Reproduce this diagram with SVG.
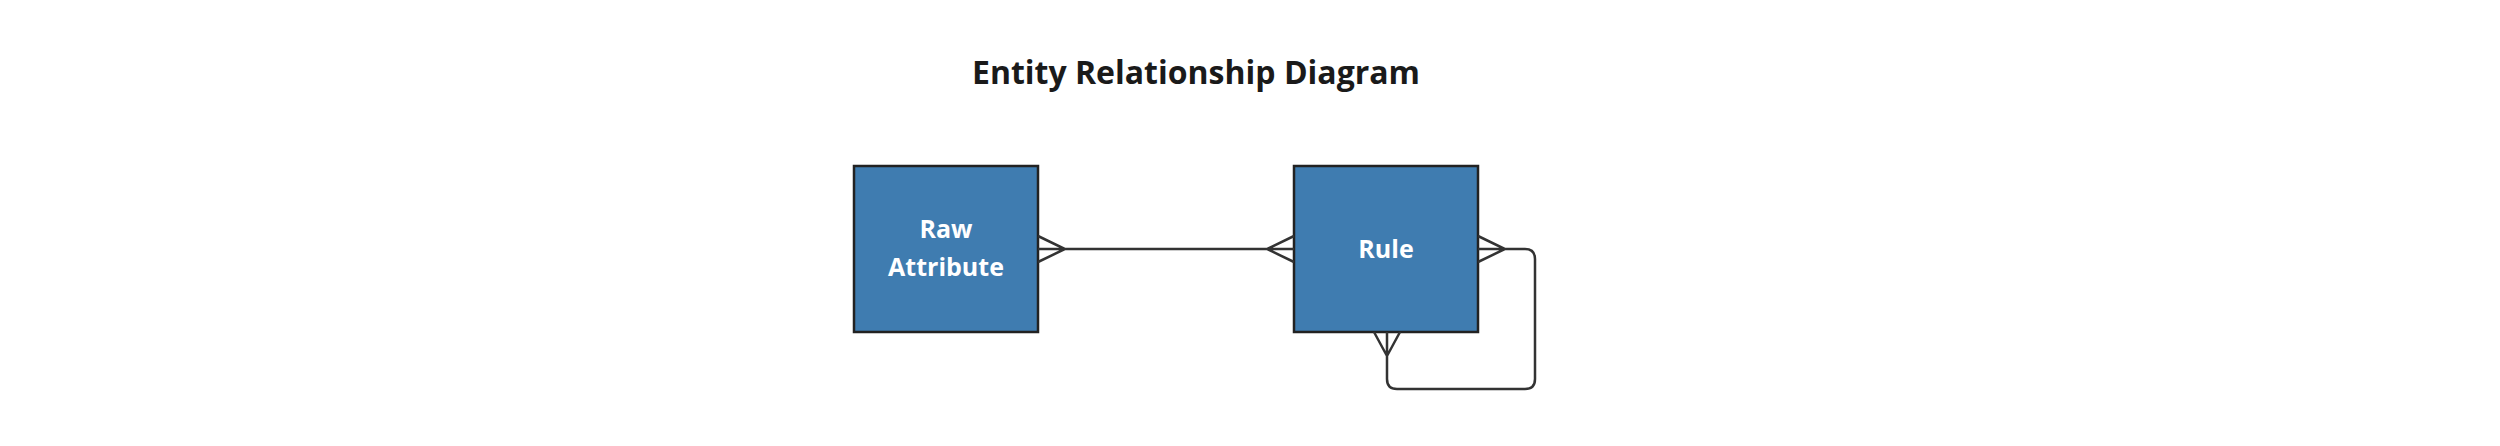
<svg xmlns="http://www.w3.org/2000/svg" width="2500" height="446" viewBox="0 0 2500 446">
<style>
.box{fill:#3f7cb0;stroke:#222;stroke-width:2.5}
.lbl{font-family:"Open Sans",sans-serif;font-weight:700;font-size:25px;fill:#fff;text-anchor:middle}
.c{fill:none;stroke:#333;stroke-width:2.5}
</style>
<rect width="2500" height="446" fill="#fff"/>
<text x="1196" y="84" font-family="Open Sans, sans-serif" font-weight="700" font-size="32" fill="#1a1a1a" text-anchor="middle">Entity Relationship Diagram</text>
<g id="raw-attribute"><rect class="box" x="854" y="166" width="184" height="166"/>
<text class="lbl" x="946" y="238">Raw</text><text class="lbl" x="946" y="276">Attribute</text></g>
<g id="rule"><rect class="box" x="1294" y="166" width="184" height="166"/>
<text class="lbl" x="1386" y="258">Rule</text></g>
<g id="connectors">
<path class="c" d="M1038 249H1294M1038 236L1065 249L1038 262M1294 236L1267 249L1294 262"/>
<path class="c" d="M1478 249H1525Q1535 249 1535 259V379Q1535 389 1525 389H1397Q1387 389 1387 379V332M1478 236L1505 249L1478 262M1374 332L1387 356L1400 332"/>
</g>
</svg>
